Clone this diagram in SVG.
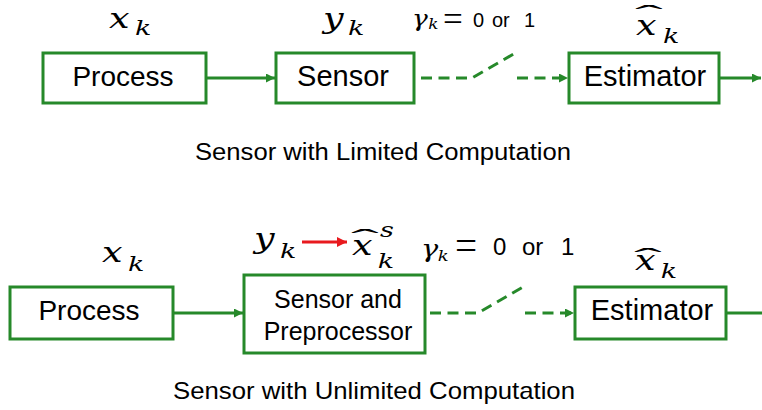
<svg xmlns="http://www.w3.org/2000/svg" width="762" height="410" viewBox="0 0 762 410">
<defs>
<style>
.box{fill:#fff;stroke:#26892a;stroke-width:3}
.ln{fill:none;stroke:#26892a;stroke-width:3}
.dash{fill:none;stroke:#26892a;stroke-width:3;stroke-dasharray:11 6.5}
.t{font-family:"Liberation Sans",Arial,sans-serif;fill:#000;text-anchor:middle}
.m{font-family:"DejaVu Serif","Liberation Serif",serif;font-style:italic;fill:#000}
.s{font-family:"Liberation Sans",Arial,sans-serif;fill:#000}
.eq{font-family:"Liberation Serif","Times New Roman",serif;fill:#000}
</style>
<marker id="ag" viewBox="0 0 10 10" refX="10" refY="5" markerWidth="3" markerHeight="3" orient="auto" markerUnits="strokeWidth"><path d="M0,0 L10,5 L0,10 z" fill="#26892a"/></marker>
<marker id="ar" viewBox="0 0 10 10" refX="10" refY="5" markerWidth="3.5" markerHeight="3.5" orient="auto" markerUnits="strokeWidth"><path d="M0,0 L10,5 L0,10 z" fill="#e8191e"/></marker>
</defs>
<rect width="762" height="410" fill="#fff"/>

<g id="connectors">
<line class="ln" x1="206" y1="78" x2="275" y2="78" marker-end="url(#ag)"/>
<polyline class="dash" points="415,78 472,78 517,52" stroke-dashoffset="11.5"/>
<line class="dash" x1="517" y1="78" x2="568" y2="78" marker-end="url(#ag)"/>
<line class="ln" x1="720" y1="78" x2="761" y2="78" marker-end="url(#ag)"/>

<line class="ln" x1="173" y1="313" x2="243" y2="313" marker-end="url(#ag)"/>
<polyline class="dash" points="426,313 478,313 523,287" stroke-dashoffset="13.5"/>
<line class="dash" x1="525" y1="313" x2="574" y2="313" marker-end="url(#ag)"/>
<line class="ln" x1="727" y1="313" x2="762" y2="313"/>
<line fill="none" stroke="#e8191e" stroke-width="3" x1="302" y1="242" x2="347" y2="242" marker-end="url(#ar)"/>
</g>

<g id="process1">
<rect class="box" x="43" y="53" width="163" height="50"/>
<text class="t" x="123" y="86" font-size="28">Process</text>
</g>
<g id="sensor1">
<rect class="box" x="276" y="53" width="138" height="50"/>
<text class="t" x="343" y="86" font-size="29">Sensor</text>
</g>
<g id="estimator1">
<rect class="box" x="569" y="53" width="150" height="50"/>
<text class="t" x="645" y="86" font-size="29">Estimator</text>
</g>

<g id="process2">
<rect class="box" x="10" y="287" width="163" height="52"/>
<text class="t" x="89" y="320" font-size="28">Process</text>
</g>
<g id="sensorpre2">
<rect class="box" x="244" y="275" width="181" height="78"/>
<text class="t" x="338" y="308" font-size="25">Sensor and</text>
<text class="t" x="338" y="340" font-size="25">Preprocessor</text>
</g>
<g id="estimator2">
<rect class="box" x="575" y="287" width="151" height="52"/>
<text class="t" x="652" y="320" font-size="29">Estimator</text>
</g>

<g id="labels">
<text class="m" transform="translate(109,28) scale(1.35,1)" font-size="27">x<tspan x="19.3" y="7" font-size="20">k</tspan></text>
<text class="m" transform="translate(323,28) scale(1.35,1)" font-size="27">y<tspan x="18.5" y="7" font-size="20">k</tspan></text>
<text class="m" transform="translate(412,26) scale(1.2,1)" font-size="22">γ<tspan x="13.5" y="3" font-size="14">k</tspan></text>
<text class="eq" transform="translate(443,31) scale(1.35,1.35)" font-size="26">=</text>
<text class="s" x="473" y="27" font-size="20">0<tspan x="492">or</tspan><tspan x="524">1</tspan></text>
<text class="m" transform="translate(636,35) scale(1.35,1)" font-size="27">x<tspan x="20" y="8" font-size="20">k</tspan></text>
<text class="eq" transform="translate(635,22.5) scale(3.2,1)" font-size="26">ˆ</text>

<text class="m" transform="translate(102,262) scale(1.35,1)" font-size="27">x<tspan x="19.3" y="9" font-size="20">k</tspan></text>
<text class="m" transform="translate(254,248) scale(1.35,1)" font-size="27">y<tspan x="19.3" y="10" font-size="20">k</tspan></text>
<text class="m" transform="translate(352,255) scale(1.35,1)" font-size="27">x<tspan x="19" y="13" font-size="20">k</tspan><tspan x="20.7" y="-18" font-size="20">s</tspan></text>
<text class="eq" transform="translate(351,247) scale(3.2,1)" font-size="26">ˆ</text>
<text class="m" transform="translate(421,257) scale(1.2,1)" font-size="24">γ<tspan x="14" y="4" font-size="15">k</tspan></text>
<text class="eq" transform="translate(455,259) scale(1.4,1.5)" font-size="28">=</text>
<text class="s" x="493" y="255" font-size="24">0<tspan x="522">or</tspan><tspan x="561">1</tspan></text>
<text class="m" transform="translate(635,270) scale(1.35,1)" font-size="27">x<tspan x="19" y="8" font-size="20">k</tspan></text>
<text class="eq" transform="translate(634,266) scale(3.2,1)" font-size="26">ˆ</text>
</g>

<g id="captions">
<text class="t" x="383" y="160" font-size="23" textLength="376" lengthAdjust="spacingAndGlyphs">Sensor with Limited Computation</text>
<text class="t" x="374" y="399" font-size="24" textLength="402" lengthAdjust="spacingAndGlyphs">Sensor with Unlimited Computation</text>
</g>
</svg>
